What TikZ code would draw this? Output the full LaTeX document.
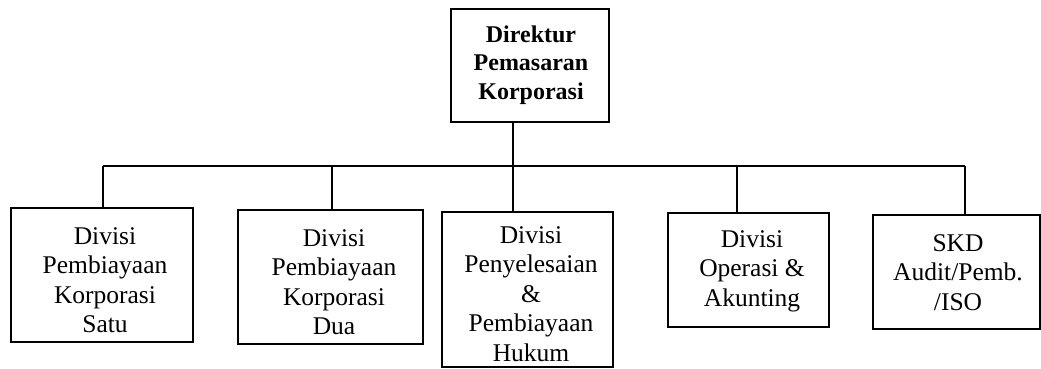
\documentclass[tikz,border=0pt]{standalone}
\usepackage{fontspec}
\setmainfont{Liberation Serif}
\begin{document}
\begin{tikzpicture}[x=1pt,y=-1pt,
  box/.style={draw, line width=1.3pt, inner sep=0pt},
  lbl/.style={font=\fontsize{25.5}{29.5}\selectfont, align=center, inner sep=0pt},
  toplbl/.style={font=\fontsize{24}{28.5}\selectfont\bfseries, align=center, inner sep=0pt},
  conn/.style={line width=1.3pt}]
\useasboundingbox (0,0) rectangle (1041,368);
% boxes
\node[box, minimum width=158pt, minimum height=113pt] (top) at (530,65.5) {};
\node[box, minimum width=182pt, minimum height=134pt] (b1) at (102,275) {};
\node[box, minimum width=185pt, minimum height=134pt] (b2) at (330.5,277) {};
\node[box, minimum width=171pt, minimum height=155pt] (b3) at (527.5,289.5) {};
\node[box, minimum width=161pt, minimum height=114pt] (b4) at (748.5,270) {};
\node[box, minimum width=167pt, minimum height=114pt] (b5) at (956.5,272) {};
% labels
\node[toplbl] (ttop) at (531,65) {Direktur\\Pemasaran\\Korporasi};
\node[lbl] (t1) at (105,280) {Divisi\\Pembiayaan\\Korporasi\\Satu};
\node[lbl] (t2) at (334,282) {Divisi\\Pembiayaan\\Korporasi\\Dua};
\node[lbl] (t3) at (531,294) {Divisi\\Penyelesaian\\\&\\Pembiayaan\\Hukum};
\node[lbl] (t4) at (752,271) {Divisi\\Operasi \&\\Akunting};
\node[lbl] (t5) at (958,272.5) {SKD\\Audit/Pemb.\\/ISO};
% connectors
\coordinate (bus) at (0,166);
\coordinate (d1) at ([xshift=1pt]b1.north);
\coordinate (d2) at ([xshift=1.5pt]b2.north);
\coordinate (d3) at ([xshift=-14.5pt]b3.north);
\coordinate (d4) at ([xshift=-11.5pt]b4.north);
\coordinate (d5) at ([xshift=8.5pt]b5.north);
\draw[conn] (top.south -| d3) -- (d3);
\draw[conn] (d1 |- bus) -- (d5 |- bus);
\draw[conn] (d1 |- bus) -- (d1);
\draw[conn] (d2 |- bus) -- (d2);
\draw[conn] (d4 |- bus) -- (d4);
\draw[conn] (d5 |- bus) -- (d5);
\end{tikzpicture}
\end{document}
